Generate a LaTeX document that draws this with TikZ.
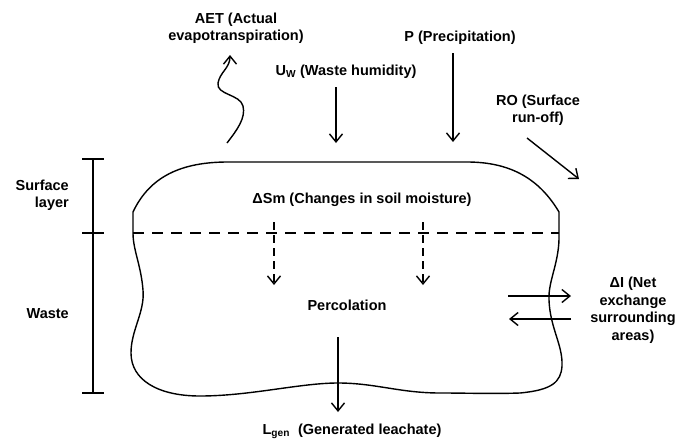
\documentclass[tikz,border=0pt]{standalone}
\usepackage{fontspec}
\setmainfont{Liberation Sans}
\usetikzlibrary{arrows.meta}
\begin{document}
\begin{tikzpicture}[x=1pt,y=-1pt,
  lbl/.style={font=\fontsize{14.5}{17.5}\selectfont\bfseries, align=center, inner sep=0pt},
  lblr/.style={font=\fontsize{14.5}{17}\selectfont\bfseries, align=right, anchor=east, inner sep=0pt},
  flow/.style={line width=1.4pt, -{Straight Barb[length=8pt,width=13pt,line width=1.4pt]}},
  dflow/.style={flow, dash pattern=on 8pt off 5pt},
  outline/.style={line width=1.4pt, line join=round},
  bar/.style={line width=1.4pt},
]
\useasboundingbox (0,0) rectangle (686,445);

% labels
\node[lbl] (aet) at (236,28) {AET (Actual\\evapotranspiration)};
\node[lbl] (uw) at (346,72) {U\textsubscript{W} (Waste humidity)};
\node[lbl] (p) at (460,38) {P (Precipitation)};
\node[lbl] (ro) at (538,110) {RO (Surface\\run-off)};
\node[lbl] (dsm) at (362,200) {ΔSm (Changes in soil moisture)};
\node[lbl] (perc) at (347,305) {Percolation};
\node[lbl] (lgen) at (352,431) {L\textsubscript{gen}\ \ (Generated leachate)};
\node[lbl] (di) at (633,310) {ΔI (Net\\exchange\\surrounding\\areas)};
\node[lblr] (surf) at (69,195) {Surface\\layer};
\node[lblr] (waste) at (69,314) {Waste};

% landfill body
\draw[outline] (133,233) -- (133,212)
  .. controls (150,176) and (182,162) .. (228,162) -- (467,162)
  .. controls (512,162) and (540,180) .. (559,212) -- (559,233)
  .. controls (560,262) and (548,280) .. (549,300)
  .. controls (550,328) and (563,345) .. (562,366)
  .. controls (561,382) and (552,390) .. (520,393)
  .. controls (490,394) and (470,393) .. (440,393)
  .. controls (400,393) and (375,383) .. (338,383)
  .. controls (300,383) and (250,396) .. (200,396)
  .. controls (158,396) and (131,380) .. (131,353)
  .. controls (131,330) and (145,312) .. (143,290)
  .. controls (141,265) and (133,250) .. (133,233) -- cycle;
\coordinate (dl) at (133,233);
\coordinate (dr) at (559,233);
\draw[line width=1.2pt, dash pattern=on 11pt off 8pt] (dl) -- (dr);

% vertical scale bar
\coordinate (bt) at (93,159);
\coordinate (bm) at (93,233);
\coordinate (bb) at (93,393);
\draw[bar] (bt) -- (bb);
\draw[bar] ([xshift=-11pt]bt) -- ([xshift=11pt]bt);
\draw[bar] ([xshift=-11pt]bm) -- ([xshift=11pt]bm);
\draw[bar] ([xshift=-11pt]bb) -- ([xshift=11pt]bb);

% flows
\coordinate (aet1) at (227,143);
\coordinate (aet2) at (230,55);
\draw[flow] (aet1) .. controls (237,130) and (246,118) .. (243,106)
  .. controls (240,94) and (216,95) .. (218,83)
  .. controls (220,72) and (230,68) .. (aet2);
\coordinate (uw1) at (336,87);
\coordinate (uw2) at (336,143);
\draw[flow] (uw1) -- (uw2);
\coordinate (p1) at (453,53);
\coordinate (p2) at (453,142);
\draw[flow] (p1) -- (p2);
\coordinate (ro1) at (527,138);
\coordinate (ro2) at (579,179);
\draw[flow] (ro1) -- (ro2);
\coordinate (s1a) at (274,222);
\coordinate (s1b) at (274,285);
\draw[dflow] (s1a) -- (s1b);
\coordinate (s2a) at (423,222);
\coordinate (s2b) at (423,285);
\draw[dflow] (s2a) -- (s2b);
\coordinate (l1) at (338,337);
\coordinate (l2) at (338,412);
\draw[flow] (l1) -- (l2);
\coordinate (i1) at (508,296);
\coordinate (i2) at (571,296);
\draw[flow] (i1) -- (i2);
\coordinate (i3) at (571,319);
\coordinate (i4) at (509,319);
\draw[flow] (i3) -- (i4);
\end{tikzpicture}
\end{document}
